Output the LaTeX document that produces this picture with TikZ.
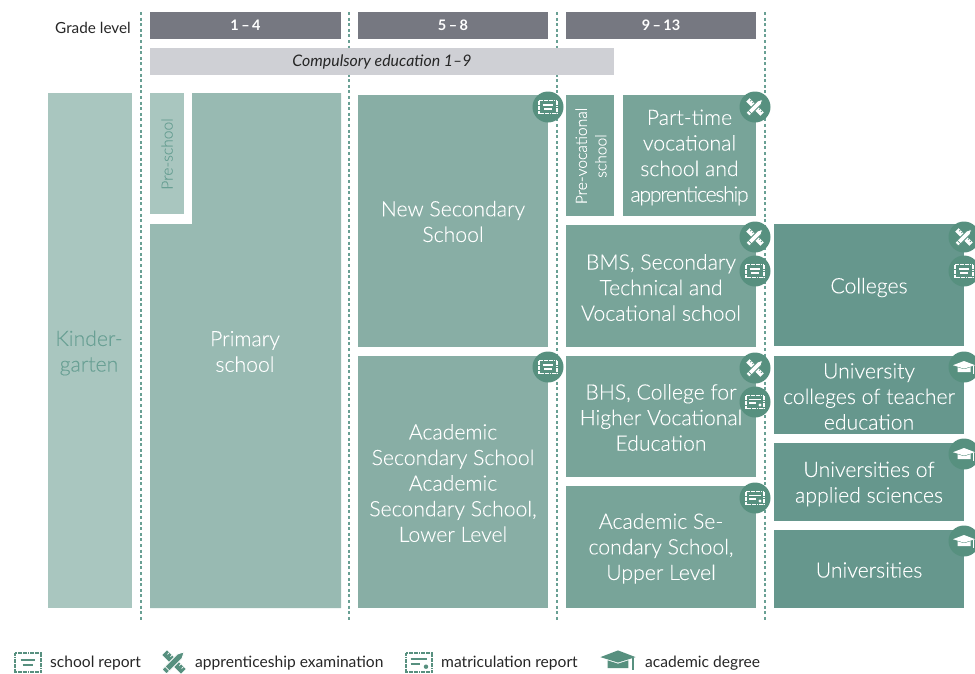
\documentclass[tikz,border=0pt]{standalone}
\usepackage{fontspec}
\setmainfont{Lato Light}[FakeBold=0.12,BoldFont={Lato},ItalicFont={Lato Italic}]
\newfontfamily\regfont[Ligatures=TeX]{Lato}
\definecolor{cA}{HTML}{A9C6BF}
\definecolor{cB}{HTML}{98BAB2}
\definecolor{cC}{HTML}{88AEA5}
\definecolor{cD}{HTML}{78A499}
\definecolor{cE}{HTML}{66978D}
\definecolor{cI}{HTML}{57907F}
\definecolor{cL}{HTML}{69A094}
\definecolor{cG}{HTML}{767881}
\definecolor{cH}{HTML}{CFD0D5}
\tikzset{
  x=1pt,y=-1pt,
  panel/.style={rectangle,fill=cD,inner sep=0pt},
  lab/.style={text=white,inner sep=0pt,align=center,font=\fontsize{21.2}{25.6}\selectfont},
  vlab/.style={lab,rotate=90,font=\fontsize{15.6}{19.6}\selectfont},
  gradebar/.style={rectangle,fill=cG,text=white,inner sep=0pt,minimum height=27pt,font=\regfont\bfseries\fontsize{14.5}{16}\selectfont},
  grid line/.style={cL,line width=1.3pt,dash pattern=on 3pt off 2.6pt},
  badge/.style={circle,fill=cI,minimum size=31pt,inner sep=0pt},
  legend text/.style={anchor=west,inner sep=0pt,text=black!85,font=\regfont\fontsize{15.6}{18}\selectfont},
  pics/report/.style n args={2}{code={
    \begin{scope}[scale=#2]
    \draw[#1,line width=#2*1.4pt,dash pattern=on 1.3pt off .4pt] (-9,-6.5) rectangle (9,6.5);
    \draw[#1,line width=#2*1.2pt] (-5.3,-2) -- (5.3,-2) (-3.8,2) -- (3.8,2);
    \end{scope}
  }},
  pics/matric/.style n args={2}{code={
    \begin{scope}[scale=#2]
    \draw[#1,line width=#2*1.4pt,dash pattern=on 1.3pt off .4pt] (-9,-6.5) rectangle (9,6.5);
    \draw[#1,line width=#2*1.2pt] (-6,-2.5) -- (5.5,-2.5) (-6,1) -- (1,1);
    \fill[#1] (5,3) circle (1.6);
    \end{scope}
  }},
  pics/tools/.style n args={3}{code={
    \begin{scope}[scale=#3]
    \begin{scope}[rotate=-45]
      \fill[#1] (-10.5,-2.6) rectangle (10.5,2.6);
      \draw[#2,line width=.7pt] (-8,-2.6) -- (-8,-.6) (-5,-2.6) -- (-5,-1) (5,-2.6) -- (5,-1) (8,-2.6) -- (8,-.6);
    \end{scope}
    \begin{scope}[rotate=45]
      \fill[#1,draw=#2,line width=.9pt] (-11,-2.6) -- (6.5,-2.6) -- (11.5,0) -- (6.5,2.6) -- (-11,2.6) -- cycle;
      \draw[#2,line width=.7pt] (-7.5,-2.6) -- (-7.5,2.6);
    \end{scope}
    \end{scope}
  }},
  pics/hat/.style n args={2}{code={
    \begin{scope}[scale=#2]
    \fill[#1] (0,-6) -- (11,-1.8) -- (0,1.6) -- (-11,-1.8) -- cycle;
    \fill[#1] (-6.5,0.2) -- (0,2.3) -- (6.5,0.2) -- (6.5,5) -- (-6.5,5) -- cycle;
    \draw[#1,line width=#2*1.2pt] (9.3,-1.5) -- (9.3,6.5);
    \end{scope}
  }},
}
\begin{document}
\begin{tikzpicture}
\useasboundingbox (0,0) rectangle (975,673);
\clip (0,0) rectangle (975,673);
% grid
\coordinate (g1a) at (141,12); \coordinate (g1b) at (141,621);
\coordinate (g2a) at (349,12); \coordinate (g2b) at (349,621);
\coordinate (g3a) at (557,12); \coordinate (g3b) at (557,621);
\coordinate (g4a) at (765,12); \coordinate (g4b) at (765,621);
\draw[grid line] (g1a) -- (g1b);
\draw[grid line] (g2a) -- (g2b);
\draw[grid line] (g3a) -- (g3b);
\draw[grid line] (g4a) -- (g4b);
% header
\node[anchor=east,inner sep=0pt,text=black!85,font=\regfont\fontsize{15.3}{17}\selectfont] (gl) at (131,28) {Grade level};
\node[gradebar,minimum width=191pt] (h1) at (245.5,25.5) {1\,–\,4};
\node[gradebar,minimum width=190pt] (h2) at (453,25.5) {5\,–\,8};
\node[gradebar,minimum width=190pt] (h3) at (661,25.5) {9\,–\,13};
\node[rectangle,fill=cH,inner sep=0pt,minimum width=464pt,minimum height=27pt] (comp) at (382,61.5) {};
\node[inner sep=0pt,text=black!85,font=\regfont\itshape\fontsize{15.9}{17}\selectfont] (compt) at (382,62) {Compulsory education 1–9};
% kindergarten + primary
\node[panel,fill=cA,minimum width=84pt,minimum height=515pt] (kg) at (90,350.5) {};
\node[lab,text=cL] (kgt) at (89,353) {Kinder-\\garten};
\node[panel,fill=cA,minimum width=34pt,minimum height=121pt] (pre) at (167,153.5) {};
\node[vlab,text=cL] (pret) at (167,154) {Pre-school};
\fill[cB] (192,93) -- (341,93) -- (341,608) -- (150,608) -- (150,224) -- (192,224) -- cycle;
\node[lab] (prim) at (245,351.5) {Primary\\school};
% secondary I
\node[panel,fill=cC,minimum width=190pt,minimum height=252pt] (nss) at (453,221) {};
\node[lab] (nsst) at (453,221.5) {New Secondary\\School};
\node[panel,fill=cC,minimum width=190pt,minimum height=252pt] (ass) at (453,482) {};
\node[lab] (asst) at (453,483) {Academic\\Secondary School\\Academic\\Secondary School,\\Lower Level};
% secondary II
\node[panel,minimum width=48pt,minimum height=121pt] (prev) at (590,155.5) {};
\node[vlab] (prevt) at (591,156) {Pre-vocational\\school};
\node[panel,minimum width=133pt,minimum height=121pt] (part) at (689.5,155.5) {};
\node[lab] (partt) at (689.5,157.5) {Part-time\\vocational\\school and\\{\addfontfeature{LetterSpace=-6}apprenticeship}};
\node[panel,minimum width=190pt,minimum height=122pt] (bms) at (661,286) {};
\node[lab] (bmst) at (661,287.5) {BMS, Secondary\\Technical and\\Vocational school};
\node[panel,minimum width=190pt,minimum height=121pt] (bhs) at (661,416.5) {};
\node[lab] (bhst) at (661,417.5) {BHS, College for\\Higher Vocational\\Education};
\node[panel,minimum width=190pt,minimum height=122pt] (acu) at (661,547) {};
\node[lab] (acut) at (661,548.5) {Academic Se-\\condary School,\\Upper Level};
% tertiary
\node[panel,fill=cE,minimum width=190pt,minimum height=122pt] (col) at (869,285) {};
\node[lab] (colt) at (869,287.5) {Colleges};
\node[panel,fill=cE,minimum width=190pt,minimum height=78pt] (uct) at (869,395) {};
\node[lab] (uctt) at (869,396.5) {University\\colleges of teacher\\education};
\node[panel,fill=cE,minimum width=190pt,minimum height=78pt] (uas) at (869,482) {};
\node[lab] (uast) at (869,484) {Universities of\\applied sciences};
\node[panel,fill=cE,minimum width=190pt,minimum height=78pt] (uni) at (869,569) {};
\node[lab] (unit) at (869,570) {Universities};
% badges
\node[badge] (b1) at (548,107) {}; \pic at (b1) {report={white}{1}};
\node[badge] (b2) at (548,367) {}; \pic at (b2) {report={white}{1}};
\node[badge] (b3) at (755,107) {}; \pic at (b3) {tools={white}{cI}{.95}};
\node[badge] (b4) at (755,237) {}; \pic at (b4) {tools={white}{cI}{.95}};
\node[badge] (b5) at (755,271) {}; \pic at (b5) {report={white}{1}};
\node[badge] (b6) at (755,368) {}; \pic at (b6) {tools={white}{cI}{.95}};
\node[badge] (b7) at (755,402) {}; \pic at (b7) {matric={white}{1}};
\node[badge] (b8) at (755,498) {}; \pic at (b8) {matric={white}{1}};
\node[badge] (b9) at (964,237) {}; \pic at (b9) {tools={white}{cI}{.95}};
\node[badge] (b10) at (964,271) {}; \pic at (b10) {report={white}{1}};
\node[badge] (b11) at (964,367) {}; \pic at (b11) {hat={white}{1}};
\node[badge] (b12) at (964,454) {}; \pic at (b12) {hat={white}{1}};
\node[badge] (b13) at (964,541) {}; \pic at (b13) {hat={white}{1}};
% legend
\coordinate (l1) at (28,662.5); \pic at (l1) {report={cI}{1.4}};
\node[legend text] (t1) at (50,663) {school report};
\coordinate (l2) at (174,662); \pic at (l2) {tools={cI}{white}{1.25}};
\node[legend text] (t2) at (195,663) {apprenticeship examination};
\coordinate (l3) at (419,662.5); \pic at (l3) {matric={cI}{1.4}};
\node[legend text] (t3) at (441,663) {matriculation report};
\coordinate (l4) at (618,660); \pic at (l4) {hat={cI}{1.6}};
\node[legend text] (t4) at (645,663) {academic degree};
\end{tikzpicture}
\end{document}
